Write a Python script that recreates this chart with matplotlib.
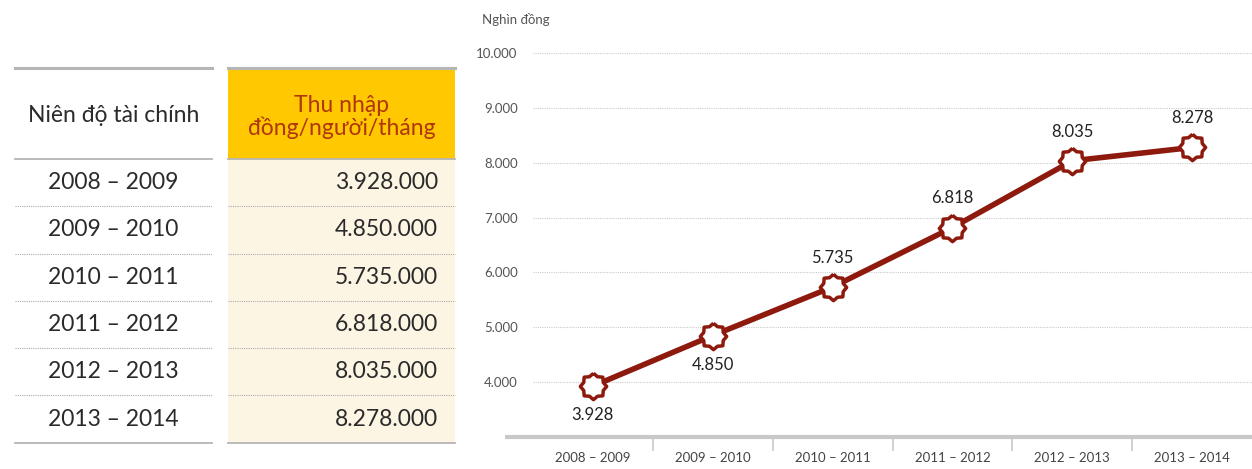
import numpy as np
import matplotlib
matplotlib.use('Agg')
import matplotlib.pyplot as plt
from matplotlib.patches import Rectangle

plt.rcParams['font.family'] = ['Lato', 'DejaVu Sans']

# data
nien_do = ['2008 – 2009', '2009 – 2010', '2010 – 2011', '2011 – 2012', '2012 – 2013', '2013 – 2014']
thu_nhap = [3928, 4850, 5735, 6818, 8035, 8278]          # nghin dong / nguoi / thang
label_above = [False, False, True, True, True, True]
y_ticks = [4000, 5000, 6000, 7000, 8000, 9000, 10000]

RED = '#8e1a0e'
GOLD = '#ffc800'
CREAM = '#fdf5e4'
HDR_TXT = '#b0360c'
TXT = '#2a2a2a'


def fmt(v):
    return '{:,}'.format(v).replace(',', '.')


W, H = 1252, 469
fig = plt.figure(figsize=(W / 100, H / 100), dpi=100)

# table drawn in pixel coordinates
tb = fig.add_axes([0, 0, 1, 1], zorder=0)
tb.set_xlim(0, W)
tb.set_ylim(H, 0)
tb.axis('off')

x0, x1 = 15, 212      # left column
x2, x3 = 228, 455     # right column
top, hdr_bot = 69, 159
row_h = 47.3

tb.add_patch(Rectangle((x2, top), x3 - x2, hdr_bot - top, color=GOLD, lw=0))
tb.add_patch(Rectangle((x2, hdr_bot), x3 - x2, row_h * 6, color=CREAM, lw=0))
for xa, xb in [(x0, x1), (x2, x3)]:
    tb.plot([xa, xb], [top - 1, top - 1], color='#b5b5b5', lw=2.2)
    tb.plot([xa, xb], [hdr_bot, hdr_bot], color='#b5b5b5', lw=1.3)
    tb.plot([xa, xb], [hdr_bot + row_h * 6, hdr_bot + row_h * 6], color='#b5b5b5', lw=1.3)
    for i in range(1, 6):
        yy = hdr_bot + row_h * i
        tb.plot([xa, xb], [yy, yy], color='#aaaaaa', lw=0.8, ls=(0, (1, 1)))

tb.text((x0 + x1) / 2, 115, 'Niên độ tài chính', ha='center', va='center',
        fontsize=16.5, color=TXT)
tb.text((x2 + x3) / 2, 117, 'Thu nhập\nđồng/người/tháng', ha='center', va='center',
        fontsize=16.5, color=HDR_TXT, linespacing=1.05)
for i, (nd, v) in enumerate(zip(nien_do, thu_nhap)):
    yc = hdr_bot + row_h * (i + 0.5)
    tb.text((x0 + x1) / 2, yc, nd, ha='center', va='center', fontsize=16.5, color=TXT)
    tb.text(438, yc, fmt(v * 1000), ha='right', va='center', fontsize=16.5, color=TXT)

# line chart
ax_l, ax_r, ax_b, ax_t = 533, 1252, 437, 53
ax = fig.add_axes([ax_l / W, (H - ax_b) / H, (ax_r - ax_l) / W, (ax_b - ax_t) / H], zorder=2)
ax.patch.set_alpha(0)
ax.set_xlim(-0.5, 5.5)
ax.set_ylim(3000, 10000)

for s in ax.spines.values():
    s.set_visible(False)
for yv in y_ticks:
    ax.axhline(yv, color='#cccccc', lw=0.8, ls=(0, (1, 1)), zorder=0)

# bottom axis line reaching a bit left of the grid
ax.plot([-(ax_l - 505) / (ax_r - ax_l), 1], [0, 0], transform=ax.transAxes,
        color='#c8c8c8', lw=3, clip_on=False, solid_capstyle='butt')

ax.set_yticks(y_ticks)
ax.set_yticklabels([fmt(v) for v in y_ticks])
ax.tick_params(axis='y', length=0, pad=11, labelsize=9.5, labelcolor='#555555')

ax.set_xticks(range(len(nien_do)))
ax.set_xticklabels(nien_do)
ax.tick_params(axis='x', length=0, pad=11, labelsize=9.5, labelcolor='#444444')
ax.set_xticks(np.arange(0.5, 5, 1), minor=True)
ax.tick_params(axis='x', which='minor', length=10, width=1.2, color='#c8c8c8')

# scalloped eight-point star marker (closed path)
ang = np.linspace(0, 2 * np.pi, 17)[:-1] + np.pi / 2
rad = np.where(np.arange(16) % 2 == 0, 1.0, 0.8)
star = np.column_stack([rad * np.cos(ang), rad * np.sin(ang)])
star = np.vstack([star, star[:1]])

xs = np.arange(len(thu_nhap))
ax.plot(xs, thu_nhap, color=RED, lw=4, zorder=3, clip_on=False)
ax.plot(xs, thu_nhap, ls='none', marker=star, ms=19, mfc='white', mec=RED, mew=2.5,
        zorder=4, clip_on=False)

for x, v, up in zip(xs, thu_nhap, label_above):
    ax.annotate(fmt(v), (x, v), xytext=(0, 21 if up else -21), textcoords='offset points',
                ha='center', va='center', fontsize=12, color='#222222')

fig.text(482 / W, 1 - 20 / H, 'Nghìn đồng', ha='left', va='center', fontsize=9.5, color='#555555')

fig.savefig('out.png', dpi=100)
